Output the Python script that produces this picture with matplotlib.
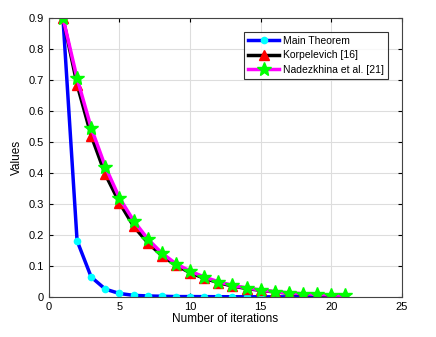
import numpy as np
import matplotlib.pyplot as plt

iters = np.arange(1, 22)
main_thm = [0.9, 0.181, 0.064, 0.025, 0.011, 0.005, 0.003, 0.002, 0.001, 0.001,
            0.0008, 0.0006, 0.0005, 0.0004, 0.0003, 0.0002, 0.0002, 0.0001,
            0.0001, 0.0001, 0.0001]
korpelevich = [0.9, 0.685, 0.52, 0.395, 0.304, 0.228, 0.175, 0.133, 0.102, 0.078,
               0.06, 0.046, 0.035, 0.027, 0.021, 0.016, 0.012, 0.009, 0.007,
               0.005, 0.004]
nadezkhina = [0.9, 0.705, 0.545, 0.42, 0.319, 0.246, 0.187, 0.141, 0.107, 0.083,
              0.064, 0.049, 0.037, 0.029, 0.022, 0.017, 0.013, 0.01, 0.008,
              0.006, 0.005]

plt.rcParams['font.family'] = ['Liberation Sans', 'DejaVu Sans']
fig = plt.figure(figsize=(4.36, 3.37), dpi=100)
ax = fig.add_axes([0.112, 0.119, 0.81, 0.828])

ax.plot(iters, main_thm, color='blue', linewidth=2.5, marker='o',
        markersize=4.5, markerfacecolor='cyan', markeredgecolor='cyan',
        label='Main Theorem')
ax.plot(iters, korpelevich, color='black', linewidth=2.5, marker='^',
        markersize=7, markerfacecolor='red', markeredgecolor='red',
        label='Korpelevich [16]')
ax.plot(iters, nadezkhina, color='magenta', linewidth=2.5, marker='*',
        markersize=10, markerfacecolor='#00ff00', markeredgecolor='#00ff00',
        label='Nadezkhina et al. [21]')

ax.set_xlim(0, 25)
ax.set_ylim(0, 0.9)
ax.set_xticks(np.arange(0, 26, 5))
ax.set_yticks(np.round(np.arange(0, 0.91, 0.1), 1))
ax.set_yticklabels(['0', '0.1', '0.2', '0.3', '0.4', '0.5', '0.6', '0.7', '0.8', '0.9'])
ax.tick_params(direction='in', labelsize=8, top=True, right=True, length=3)
ax.grid(True, color='#dddddd', linewidth=0.8)
ax.set_axisbelow(True)
for s in ax.spines.values():
    s.set_color('#444444')
    s.set_linewidth(0.8)

ax.set_xlabel('Number of iterations', fontsize=8.5, labelpad=1)
ax.set_ylabel('Values', fontsize=8.5, labelpad=4)

leg = ax.legend(loc='upper right', fontsize=7.5, frameon=True, fancybox=False,
                edgecolor='black', handlelength=3.0, borderpad=0.35,
                labelspacing=0.45, handletextpad=0.4,
                bbox_to_anchor=(0.975, 0.968))
leg.get_frame().set_linewidth(0.8)

fig.savefig('out.png', dpi=100)
